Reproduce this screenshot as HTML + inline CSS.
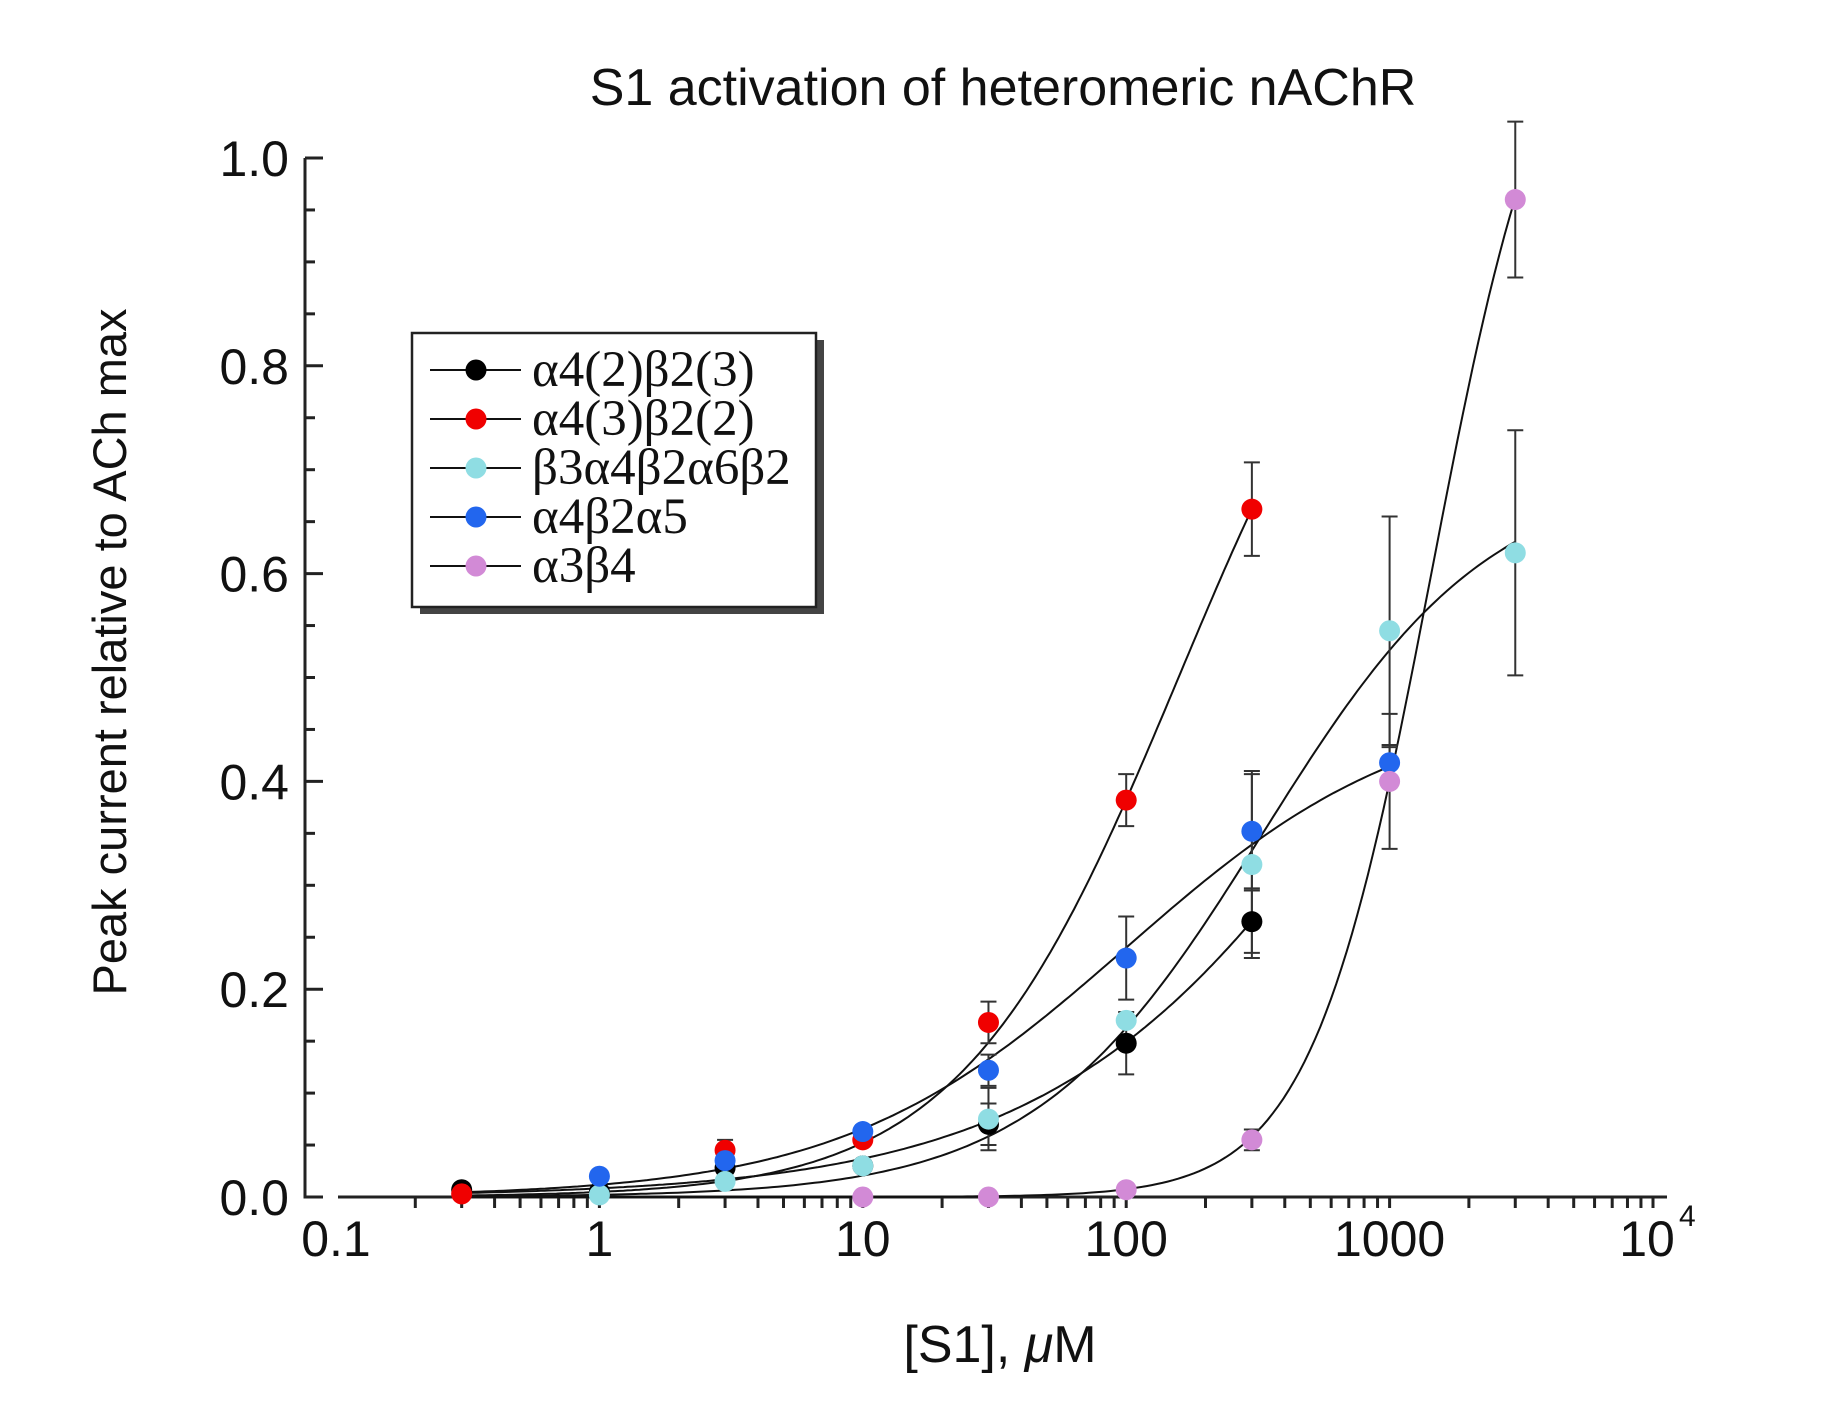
<!DOCTYPE html>
<html><head><meta charset="utf-8"><style>
html,body{margin:0;padding:0;background:#fff;}
svg{display:block;}
</style></head><body>
<svg id="s" width="1840" height="1428" xmlns="http://www.w3.org/2000/svg" font-family="Liberation Sans, sans-serif">
<text x="1003" y="105" font-size="52" text-anchor="middle" fill="#111">S1 activation of heteromeric nAChR</text>
<text transform="translate(126,652) rotate(-90)" font-size="47" text-anchor="middle" fill="#111">Peak current relative to ACh max</text>
<text x="1000" y="1362" font-size="52" text-anchor="middle" fill="#111">[S1], <tspan font-style="italic">μ</tspan>M</text>
<g id="axes" stroke="#222" stroke-width="3" fill="none"></g>
<g id="labels" font-size="50" fill="#111"></g>
<g id="curves" stroke="#111" stroke-width="2" fill="none"></g>
<g id="err" stroke="#333" stroke-width="2" fill="none"></g>
<g id="pts"></g>
<g>
<rect x="420" y="340" width="404" height="274" fill="#444"/>
<rect x="412" y="333" width="404" height="274" fill="#fff" stroke="#222" stroke-width="2.5"/>
</g>
<g id="leg" font-family="Liberation Serif, serif" font-size="51" fill="#111"></g>
</svg>
<script>
var NS="http://www.w3.org/2000/svg";
function X(v){return 336+263.4*(Math.log10(v)+1);}
function Y(v){return 1197-1039*v;}
function el(p,t,a,txt){var e=document.createElementNS(NS,t);for(var k in a)e.setAttribute(k,a[k]);if(txt!==undefined)e.textContent=txt;document.getElementById(p).appendChild(e);return e;}
el("axes","path",{d:"M305 158 V1197 H322"});
el("axes","path",{d:"M338 1197 H1667"});
for(var i=0;i<=20;i++){var y=Y(i*0.05);var L=(i%4==0)?18:10;el("axes","line",{x1:305,y1:y,x2:305+L,y2:y});}
for(var i=0;i<=5;i++){el("labels","text",{x:289,y:Y(i*0.2)+18,"text-anchor":"end"},(i*0.2).toFixed(1));}
for(var d=-1;d<4;d++){for(var m=1;m<10;m++){var v=m*Math.pow(10,d);if(v<0.2&&m==1)continue;el("axes","line",{x1:X(v),y1:1197,x2:X(v),y2:1208});}}
el("axes","line",{x1:X(10000),y1:1197,x2:X(10000),y2:1208});
var xl=[[0.1,"0.1"],[1,"1"],[10,"10"],[100,"100"],[1000,"1000"]];
xl.forEach(function(a){el("labels","text",{x:X(a[0]),y:1256,"text-anchor":"middle"},a[1]);});
el("labels","text",{x:X(10000)-6,y:1256,"text-anchor":"middle"},"10");
el("labels","text",{x:X(10000)+26,y:1226,"font-size":"30"},"4");
function hill(mx,ec,n){return function(x){var r=Math.pow(x/ec,n);return mx*r/(1+r);};}
var series=[
 {c:"#000",f:hill(1,1400,0.66),a:0.3,b:300,p:[[0.3,0.007],[1,0.005],[3,0.028],[10,0.03],[30,0.07,0.02],[100,0.148,0.03],[300,0.265,0.03]]},
 {c:"#f00000",f:hill(1,158,1.05),a:0.3,b:300,p:[[0.3,0.003],[3,0.045,0.01],[10,0.055],[30,0.168,0.02],[100,0.382,0.025],[300,0.662,0.045]]},
 {c:"#8fdde3",f:hill(0.70,330,1.0),a:0.3,b:3000,p:[[1,0.002],[3,0.015],[10,0.03],[30,0.075,0.03],[100,0.17],[300,0.32,0.09],[1000,0.545,0.11],[3000,0.62,0.118]]},
 {c:"#2266ee",f:hill(0.48,100,0.8),a:0.3,b:1000,p:[[1,0.02],[3,0.035],[10,0.063],[30,0.122,0.015],[100,0.23,0.04],[300,0.352,0.055],[1000,0.418,0.015]]},
 {c:"#d28ad6",f:hill(1.2,1440,1.9),a:0.3,b:3000,p:[[10,0],[30,0],[100,0.007],[300,0.055,0.01],[1000,0.4,0.065],[3000,0.96,0.075]]}
];
series.forEach(function(s){
 var d="";for(var i=0;i<=200;i++){var lx=Math.log10(s.a)+(Math.log10(s.b)-Math.log10(s.a))*i/200;var v=Math.pow(10,lx);d+=(i?"L":"M")+X(v).toFixed(1)+" "+Y(s.f(v)).toFixed(1);}
 el("curves","path",{d:d});
});
series.forEach(function(s){s.p.forEach(function(p){if(p[2]){var x=X(p[0]);el("err","path",{d:"M"+x+" "+Y(p[1]-p[2])+"V"+Y(p[1]+p[2])+"M"+(x-8)+" "+Y(p[1]-p[2])+"h16M"+(x-8)+" "+Y(p[1]+p[2])+"h16"});}});});
series.forEach(function(s){s.p.forEach(function(p){el("pts","circle",{cx:X(p[0]),cy:Y(p[1]),r:10.5,fill:s.c});});});
var names=["α4(2)β2(3)","α4(3)β2(2)","β3α4β2α6β2","α4β2α5","α3β4"];
names.forEach(function(n,i){var y=370+i*49;el("leg","line",{x1:430,y1:y,x2:521,y2:y,stroke:"#111","stroke-width":2});el("leg","circle",{cx:476,cy:y,r:10.5,fill:series[i].c});el("leg","text",{x:532,y:y+16},n);});
</script>
</body></html>
